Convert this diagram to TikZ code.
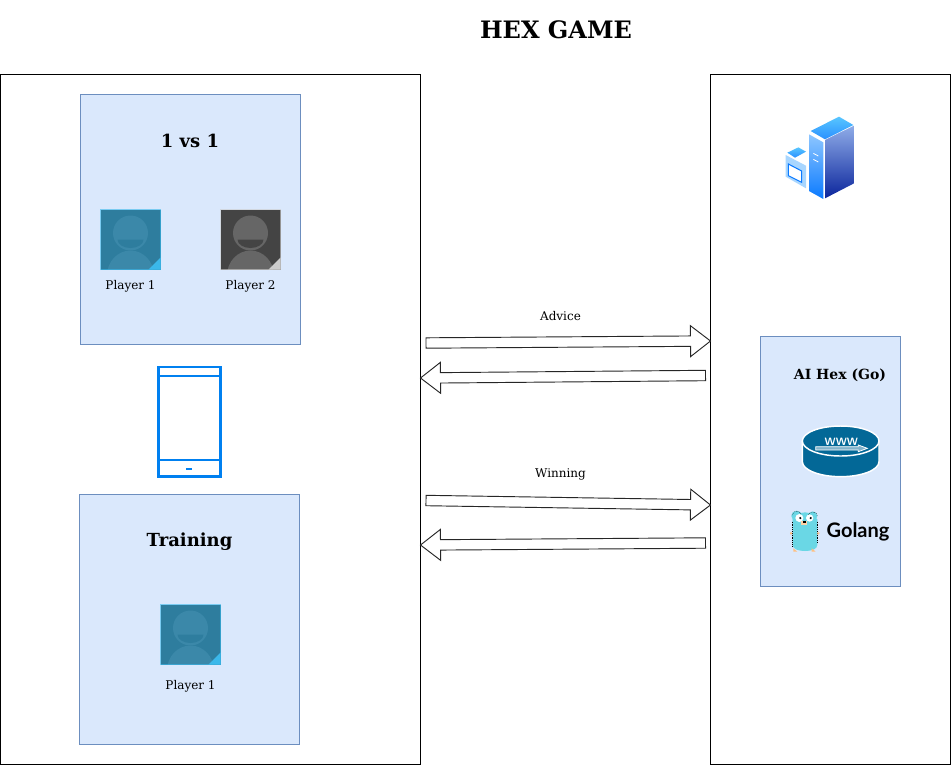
\documentclass[tikz,border=0pt]{standalone}
\usepackage{fontspec}
\setmainfont{DejaVu Serif}
\newfontfamily\golangfont{Lato}
\usetikzlibrary{calc}
\definecolor{panelfill}{HTML}{DAE8FC}
\definecolor{paneldraw}{HTML}{6C8EBF}
\definecolor{phoneblue}{HTML}{0080F0}
\definecolor{wwwblue}{HTML}{036897}
\definecolor{gopher}{HTML}{6AD7E5}
\definecolor{tealback}{HTML}{2E7D9E}
\definecolor{tealhead}{HTML}{3B88A9}
\definecolor{tealcorner}{HTML}{3BB8EA}
\definecolor{greyback}{HTML}{444444}
\definecolor{greyhead}{HTML}{666666}
\definecolor{greycorner}{HTML}{CCCCCC}
\definecolor{roofa}{HTML}{58C6FF}
\definecolor{roofb}{HTML}{2A90FF}
\definecolor{walla}{HTML}{8EC6FF}
\definecolor{wallb}{HTML}{0A7AFF}
\definecolor{sidea}{HTML}{8FACE8}
\definecolor{sideb}{HTML}{0B259C}
\definecolor{frontfill}{HTML}{A8D6FF}
\tikzset{
  frame/.style={draw=black,line width=.75pt},
  panel/.style={draw=paneldraw,fill=panelfill,line width=.75pt},
  label/.style={font=\fontsize{9}{11}\selectfont,text=black},
  heading/.style={font=\fontsize{13.5}{16}\selectfont\bfseries},
  bigarrow/.style={draw=black!85,fill=white,line width=.7pt},
  pics/avatar/.style n args={3}{code={
    \fill[#1] (-30,-30) rectangle (30,30);
    \begin{scope}
      \clip (-30,-30) rectangle (30,30);
      \fill[#2] (0,36) ellipse (23.5 and 25);
      \fill[#2] (0,-6.5) circle (17.5);
      \fill[#1] (-13,0) arc (180:0:13 and 8.5) -- cycle;
    \end{scope}
    \fill[#3] (30,30) -- (30,18) -- (18,30) -- cycle;
    \draw[#3,opacity=.6,line width=.5pt] (-30,-30) rectangle (30,30);
  }}
}
\newcommand{\blockarrow}[2]{
  \draw[bigarrow] ($(#1)!3.9pt!90:(#2)$) -- ($(#2)!15pt!0:(#1)!3.9pt!90:(#2)$)
    -- ($(#2)!15pt!0:(#1)!11.6pt!90:(#2)$) -- (#2)
    -- ($(#2)!15pt!0:(#1)!11.6pt!-90:(#2)$) -- ($(#2)!15pt!0:(#1)!3.9pt!-90:(#2)$)
    -- ($(#1)!3.9pt!-90:(#2)$) -- cycle;
}
\begin{document}
\begin{tikzpicture}[x=.75pt,y=-.75pt]
\useasboundingbox (0,0) rectangle (952,765);

% outer boxes
\draw[frame] (.5,74.5) rectangle (420.5,764.5);
\draw[frame] (710.5,74.5) rectangle (950.5,764.5);
\draw[panel] (80.5,94.5) rectangle (300.5,344.5);
\draw[panel] (79.5,494.5) rectangle (299.5,744.5);
\draw[panel] (760.5,336.5) rectangle (900.5,586.5);

\node[font=\fontsize{18}{22}\selectfont\bfseries] (title) at (556,30) {HEX GAME};
\node[heading] (versus) at (190,140.5) {1 vs 1};
\node[heading] (training) at (189.5,542) {Training};
\node[font=\fontsize{10.5}{13}\selectfont\bfseries] (aihex) at (840,375) {AI Hex (Go)};

% players
\pic at (130.5,239.5) {avatar={tealback}{tealhead}{tealcorner}};
\pic at (250.5,239.5) {avatar={greyback}{greyhead}{greycorner}};
\pic at (190.5,634.5) {avatar={tealback}{tealhead}{tealcorner}};
\node[label] (player1) at (130.5,286) {Player 1};
\node[label] (player2) at (250.5,286) {Player 2};
\node[label] (player3) at (190.5,686) {Player 1};

% phone
\draw[phoneblue,line width=1.6pt] (158.5,367) rectangle (220.5,476.5);
\draw[phoneblue,line width=1.3pt] (158.5,375.7) -- (220.5,375.7);
\draw[phoneblue,line width=1.3pt] (158.5,460) -- (220.5,460);
\draw[phoneblue,line width=1.5pt] (186,468.5) -- (192,468.5);

% arrows
\coordinate (advicea) at (426,343);
\coordinate (adviceb) at (710.5,341);
\coordinate (advicec) at (705.5,375.5);
\coordinate (adviced) at (420.5,378);
\coordinate (winninga) at (426,500.5);
\coordinate (winningb) at (710.5,505);
\coordinate (winningc) at (705.5,543);
\coordinate (winningd) at (420.5,545);
\blockarrow{advicea}{adviceb}
\blockarrow{advicec}{adviced}
\blockarrow{winninga}{winningb}
\blockarrow{winningc}{winningd}
\node[label] (advice) at (560.5,316) {Advice};
\node[label] (winning) at (560.5,474) {Winning};

% server icon
\begin{scope}[shift={(770,105)},x=.25pt,y=-.25pt]
  \shade[top color=roofa,bottom color=roofb] (122,78) -- (207,35) -- (250,60) -- (165,103) -- cycle;
  \shade[top color=walla,bottom color=wallb] (117,88) -- (160,112) -- (160,282) -- (117,258) -- cycle;
  \shade[top color=sidea,bottom color=sideb] (165,105) -- (252,62) -- (252,235) -- (165,280) -- cycle;
  \draw[white,line width=.6pt] (130,145) -- (145,153) (130,163) -- (145,171);
  \shade[top color=roofa,bottom color=roofb] (52,143) -- (85,127) -- (108,140) -- (75,158) -- cycle;
  \fill[frontfill] (47,150) -- (108,182) -- (108,250) -- (47,215) -- cycle;
  \draw[wallb,fill=white,line width=.8pt] (55,177) -- (95,198) -- (95,232) -- (55,212) -- cycle;
\end{scope}

% www router and gopher
\begin{scope}[shift={(770,415)},x=.25pt,y=-.25pt]
  \draw[white,fill=wwwblue,line width=1.1pt] (97,78) -- (97,140) arc (180:0:115 and 45) -- (327,78);
  \draw[white,fill=wwwblue,line width=1.1pt] (212,78) ellipse (115 and 45);
  \node[font=\fontsize{8}{9}\selectfont\sffamily\bfseries,text=white] (www) at (214,79) {WWW};
  \draw[white,fill=wwwblue!50!white,line width=.6pt] (137,95) -- (265,95) -- (265,90) -- (292,100) -- (265,110) -- (265,105) -- (137,105) -- cycle;

  \fill[gopher] (68,312) -- (142,312) -- (142,390) .. controls (142,402) and (125,408) .. (105,408) .. controls (85,408) and (68,402) .. (68,390) -- cycle;
  \fill[gopher] (80,303) circle (16) (128,303) circle (14);
  \fill[gopher] (105,320) ellipse (37 and 28);
  \draw[black,densely dotted,line width=.4pt] (67,320) -- (67,395) (142,320) -- (142,385);
  \draw[black,densely dotted,line width=.4pt] (66,300) arc (170:20:14 and -14) (115,300) arc (160:10:14 and -14);
  \fill[white] (88,309) circle (12) (119,309) circle (11);
  \fill[black] (91,309) circle (3.5) (122,309) circle (3.5);
  \fill[orange!35!white] (94,319) rectangle (111,331);
  \fill[black] (100,317) rectangle (107,323);
  \fill[orange!50!white] (70,400) -- (82,410) -- (70,410) -- cycle (125,400) -- (137,410) -- (125,410) -- cycle (60,352) rectangle (66,358) (142,352) rectangle (148,358);
  \node[font=\fontsize{15}{18}\selectfont\golangfont\bfseries,text=black] (golang) at (264,352) {Golang};
\end{scope}
\end{tikzpicture}
\end{document}
